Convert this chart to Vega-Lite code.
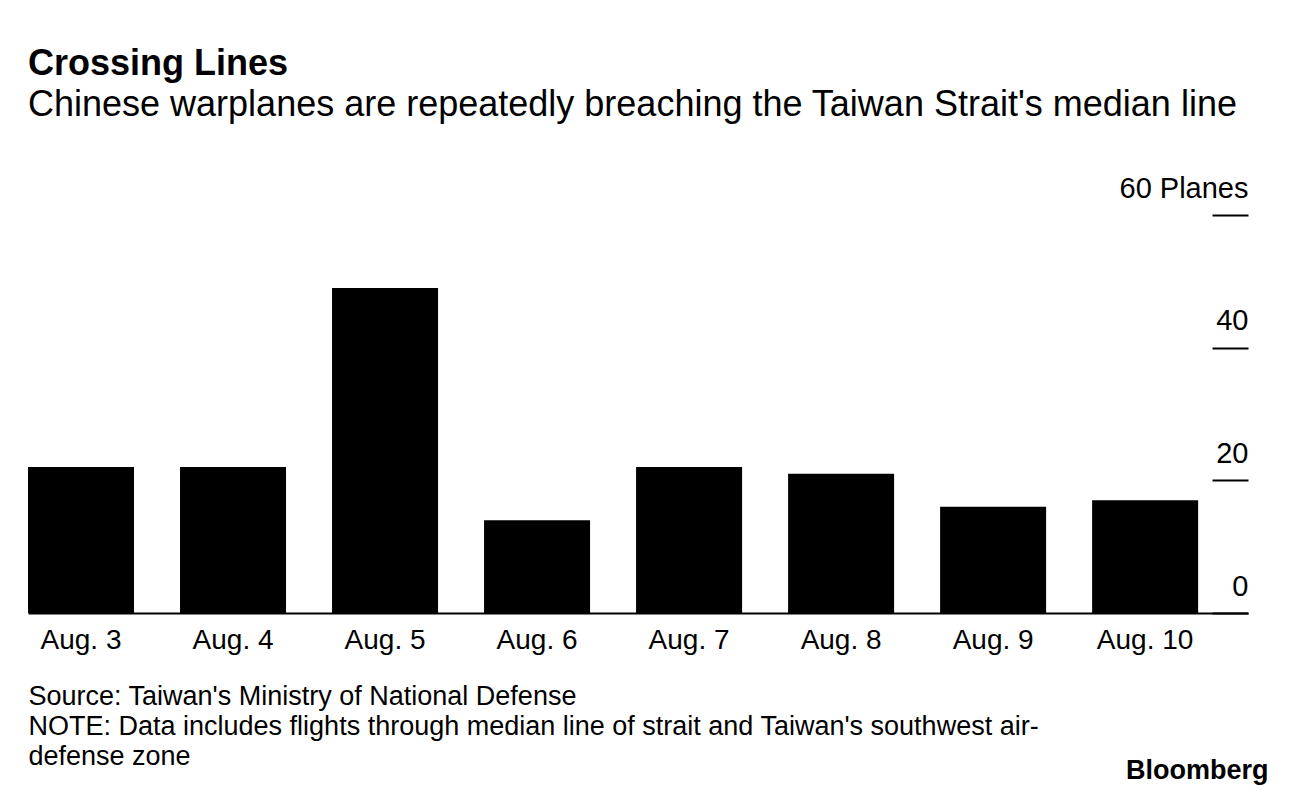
{
  "$schema": "https://vega.github.io/schema/vega-lite/v6.json",
  "width": 1220,
  "height": 398,
  "autosize": {"type": "none"},
  "padding": {"left": 28, "top": 215, "right": 48, "bottom": 183},
  "background": "white",
  "config": {
    "font": "Liberation Sans",
    "view": {"stroke": null}
  },
  "title": {
    "text": "Crossing Lines",
    "subtitle": "Chinese warplanes are repeatedly breaching the Taiwan Strait's median line",
    "anchor": "start",
    "frame": "group",
    "fontSize": 36,
    "fontWeight": "bold",
    "color": "black",
    "subtitleFontSize": 36,
    "subtitleColor": "black",
    "subtitlePadding": 5,
    "offset": 50
  },
  "data": {
    "values": [
      {"date": "Aug. 3", "planes": 22},
      {"date": "Aug. 4", "planes": 22},
      {"date": "Aug. 5", "planes": 49},
      {"date": "Aug. 6", "planes": 14},
      {"date": "Aug. 7", "planes": 22},
      {"date": "Aug. 8", "planes": 21},
      {"date": "Aug. 9", "planes": 16},
      {"date": "Aug. 10", "planes": 17}
    ]
  },
  "mark": {"type": "bar", "color": "black"},
  "encoding": {
    "x": {
      "field": "date",
      "type": "nominal",
      "sort": null,
      "scale": {"paddingInner": 0.3026, "paddingOuter": 0.164, "align": 0},
      "axis": {
        "title": ["Source: Taiwan's Ministry of National Defense", "NOTE: Data includes flights through median line of strait and Taiwan's southwest air-", "defense zone"],
        "titleFontSize": 27,
        "titleFontWeight": "normal",
        "titleColor": "black",
        "titleAlign": "left",
        "titleAnchor": "start",
        "titleBaseline": "top",
        "titleX": 0,
        "titleY": 70,
        "titleLineHeight": 30,
        "labelAngle": 0,
        "labelFontSize": 28,
        "labelColor": "black",
        "labelPadding": 13,
        "ticks": false,
        "domainColor": "black",
        "domainWidth": 2
      }
    },
    "y": {
      "field": "planes",
      "type": "quantitative",
      "scale": {"domain": [0, 60]},
      "axis": {
        "orient": "left",
        "offset": -1220,
        "values": [0, 20, 40, 60],
        "labelExpr": "datum.value == 60 ? '60 Planes' : datum.label",
        "grid": false,
        "domain": false,
        "tickSize": 36,
        "tickWidth": 2,
        "tickColor": "black",
        "labelPadding": -36,
        "labelAlign": "right",
        "labelBaseline": "bottom",
        "labelOffset": -12,
        "labelFontSize": 29,
        "labelColor": "black",
        "title": "Bloomberg",
        "titleAngle": 0,
        "titleAlign": "right",
        "titleBaseline": "alphabetic",
        "titleX": 20,
        "titleY": 563,
        "titleFontSize": 27,
        "titleFontWeight": "bold",
        "titleColor": "black"
      }
    }
  }
}
